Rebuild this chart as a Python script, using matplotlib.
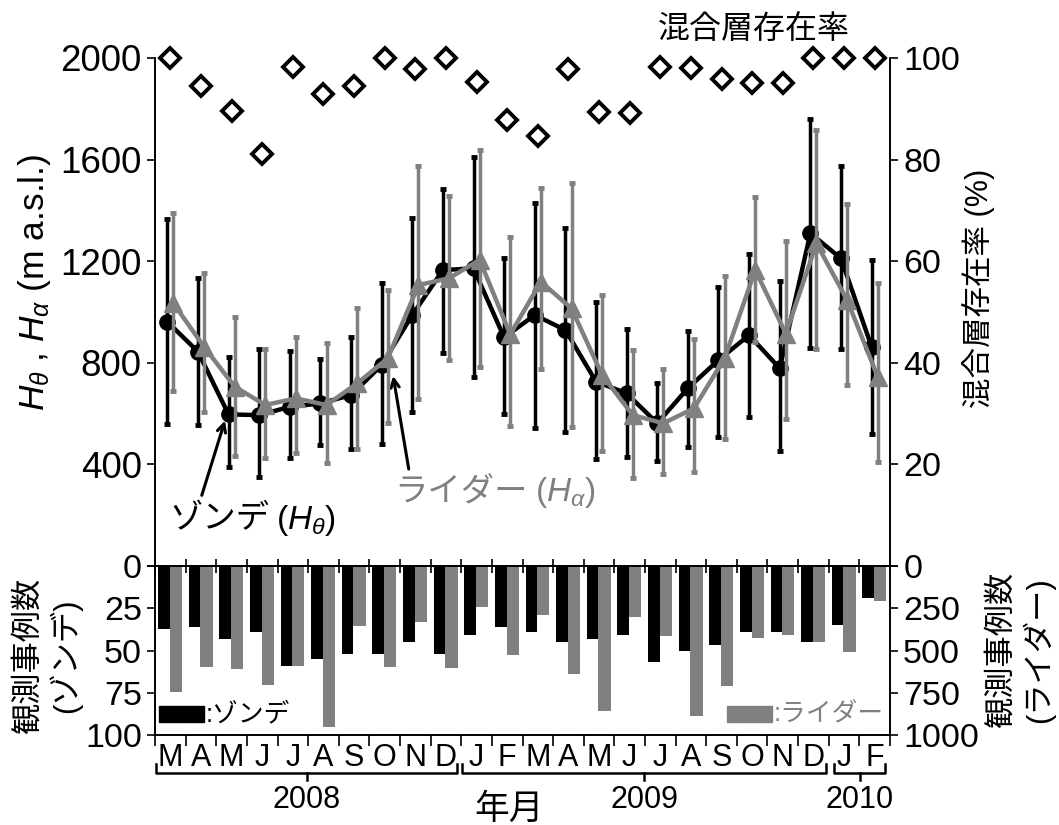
import numpy as np
import matplotlib
matplotlib.use('Agg')
import matplotlib.pyplot as plt
from matplotlib import transforms
from matplotlib.patches import Rectangle

plt.rcParams['font.family'] = ['Liberation Sans', 'Noto Sans CJK JP', 'DejaVu Sans']
plt.rcParams['mathtext.fontset'] = 'custom'
plt.rcParams['mathtext.rm'] = 'Liberation Sans'
plt.rcParams['mathtext.it'] = 'Liberation Sans:italic'
plt.rcParams['axes.linewidth'] = 1.2

months = ['M', 'A', 'M', 'J', 'J', 'A', 'S', 'O', 'N', 'D', 'J', 'F',
          'M', 'A', 'M', 'J', 'J', 'A', 'S', 'O', 'N', 'D', 'J', 'F']

# sonde mixing layer height H_theta (m a.s.l.) with error bar ends
sonde_h = [962, 844, 597, 594, 627, 640, 673, 791, 988, 1165, 1172, 900,
           988, 929, 726, 680, 562, 700, 811, 909, 778, 1310, 1211, 863]
sonde_hi = [1366, 1133, 824, 854, 846, 815, 903, 1113, 1369, 1484, 1609, 1211,
            1428, 1329, 1041, 932, 722, 926, 1100, 1228, 1123, 1759, 1576, 1205]
sonde_lo = [559, 555, 388, 352, 424, 476, 461, 479, 605, 840, 745, 598,
            545, 526, 420, 430, 415, 470, 509, 588, 453, 857, 853, 520]

# lidar H_alpha
lidar_h = [1034, 863, 706, 634, 660, 634, 719, 818, 1106, 1133, 1205, 912,
           1119, 1014, 752, 594, 562, 621, 818, 1165, 915, 1270, 1047, 745]
lidar_hi = [1389, 1152, 981, 854, 900, 879, 1014, 1087, 1576, 1458, 1638, 1294,
            1487, 1506, 1067, 850, 774, 894, 1142, 1454, 1281, 1717, 1424, 1113]
lidar_lo = [689, 607, 434, 424, 444, 404, 461, 562, 657, 811, 782, 551,
            774, 548, 454, 345, 361, 369, 499, 880, 578, 853, 713, 411]

# mixing layer existence rate (%)
mix_rate = [100, 94.5, 89.6, 81.2, 98.3, 93.0, 94.4, 100, 97.8, 100, 95.2, 87.7,
            84.7, 97.8, 89.3, 89.1, 98.3, 98.0, 95.9, 95.0, 95.0, 100, 100, 100]

# number of observations
sonde_n = [37, 36, 43, 39, 59, 55, 52, 52, 45, 52, 41, 36,
           39, 45, 43, 41, 57, 50, 47, 39, 39, 45, 35, 19]
lidar_n = [744, 599, 611, 704, 590, 951, 355, 599, 330, 605, 245, 527,
           290, 639, 856, 300, 412, 888, 710, 428, 408, 448, 511, 205]

years = ['2008', '2009', '2010']
year_span = [(-0.47, 9.37), (9.54, 21.4), (21.66, 23.35)]

h_ticks = [0, 400, 800, 1200, 1600, 2000]
rate_ticks = [0, 20, 40, 60, 80, 100]

GRAY = '#808080'
x = np.arange(len(months))
sonde_h = np.array(sonde_h)
lidar_h = np.array(lidar_h)

fig = plt.figure(figsize=(10.59, 8.25), dpi=100)
ax = fig.add_axes([0.1464, 0.3139, 0.694, 0.6158])
axr = ax.twinx()
axb = fig.add_axes([0.1464, 0.1091, 0.694, 0.2048])
axbr = axb.twinx()

# top panel
ax.errorbar(x - 0.1, sonde_h, yerr=[sonde_h - np.array(sonde_lo), np.array(sonde_hi) - sonde_h],
            fmt='-o', color='black', lw=3.2, ms=11, elinewidth=2.5, capsize=2.2, capthick=3.5, zorder=3)
ax.errorbar(x + 0.1, lidar_h, yerr=[lidar_h - np.array(lidar_lo), np.array(lidar_hi) - lidar_h],
            fmt='-^', color=GRAY, lw=3.2, ms=13, elinewidth=2.5, capsize=2.2, capthick=3.5, zorder=4)
ax.set_xlim(-0.5, 23.5)
ax.set_ylim(0, 2000)
ax.set_yticks(h_ticks)
# the 0 is shown by the lower panel's label
ax.set_yticklabels([''] + [str(v) for v in h_ticks[1:]])
ax.set_xticks(np.arange(-0.5, 24, 1))
ax.set_xticklabels([])
ax.tick_params(axis='x', direction='inout', length=10, width=1.2)
ax.tick_params(axis='y', labelsize=26.5, length=6, width=1.2, direction='out')
ax.spines['top'].set_visible(False)
axr.spines['top'].set_visible(False)

axr.plot(x, mix_rate, 'D', ms=10, mfc='white', mec='black', mew=2.8, clip_on=False, zorder=5)
axr.set_ylim(0, 100)
axr.set_yticks(rate_ticks)
axr.set_yticklabels([''] + [str(v) for v in rate_ticks[1:]])
axr.tick_params(axis='y', labelsize=24.5, length=6, width=1.2, direction='out')
ax.set_zorder(axr.get_zorder() + 1)
ax.patch.set_visible(False)

# annotations
ax.annotate('', xy=(1.81, 583), xytext=(1.0, 268),
            arrowprops=dict(arrowstyle='->,head_length=0.6,head_width=0.3', lw=2.2, color='black'))
t1 = ax.text(-0.04, 181, 'ゾンデ', fontsize=24, va='center', ha='left')
ax.annotate('($H_\\theta$)', xy=(1, 0.5), xycoords=t1, xytext=(5, 0), textcoords='offset points',
            fontsize=24, va='center', ha='left')
ax.annotate('', xy=(7.26, 759), xytext=(7.80, 371),
            arrowprops=dict(arrowstyle='->,head_length=0.6,head_width=0.3', lw=2.2, color='black'))
t2 = ax.text(7.31, 291, 'ライダー', fontsize=24, va='center', ha='left', color=GRAY)
ax.annotate('($H_\\alpha$)', xy=(1, 0.5), xycoords=t2, xytext=(5, 0), textcoords='offset points',
            fontsize=24, va='center', ha='left', color=GRAY)

# bottom panel
axb.bar(x - 0.40, sonde_n, width=0.38, align='edge', color='black')
axbr.bar(x - 0.02, lidar_n, width=0.40, align='edge', color=GRAY)
axb.set_xlim(-0.5, 23.5)
axb.set_ylim(100, 0)
axb.set_yticks([0, 25, 50, 75, 100])
axbr.set_ylim(1000, 0)
axbr.set_yticks([0, 250, 500, 750, 1000])
axb.tick_params(axis='y', labelsize=24.5, length=6, width=1.2)
axbr.tick_params(axis='y', labelsize=24.5, length=6, width=1.2)
axb.set_xticks(np.arange(-0.5, 24, 1))
axb.set_xticklabels([])
axb.set_xticks(x, minor=True)
axb.set_xticklabels(months, minor=True, fontsize=22)
axb.tick_params(axis='x', which='major', length=8, width=1.2)
axb.tick_params(axis='x', which='minor', length=0, pad=6)

# legend boxes
blend = transforms.blended_transform_factory(axb.transData, axb.transAxes)
axb.add_patch(Rectangle((-0.37, 0.077), 1.47, 0.095, transform=blend, color='black', zorder=5))
axb.text(1.15, 0.124, ':ゾンデ', transform=blend, fontsize=18.5, va='center', ha='left', zorder=5)
axbr.add_patch(Rectangle((18.19, 0.077), 1.47, 0.095, transform=blend, color=GRAY, zorder=5))
axbr.text(19.7, 0.124, ':ライダー', transform=blend, fontsize=18.5, va='center', ha='left', color=GRAY, zorder=5)

# year brackets
for lab, (x0, x1) in zip(years, year_span):
    xm = (x0 + x1) / 2
    axb.plot([x0, x0, x1, x1], [-0.172, -0.225, -0.225, -0.172], color='black', lw=1.8,
             transform=blend, clip_on=False)
    axb.plot([xm, xm], [-0.225, -0.266], color='black', lw=1.8, transform=blend, clip_on=False)
    axb.text(xm, -0.385, lab, transform=blend, fontsize=22, ha='center', va='center')
axb.text(11.07, -0.44, '年月', transform=blend, fontsize=25, ha='center', va='center')

# axis labels
fig.text(0.033, 0.658, '$H_\\theta$ , $H_\\alpha$ (m a.s.l.)', rotation=90, fontsize=25.5,
         ha='center', va='center')
fig.text(0.924, 0.651, '混合層存在率 (%)', rotation=90, fontsize=22, ha='center', va='center')
fig.text(0.712, 0.964, '混合層存在率', fontsize=23, ha='center', va='center')
fig.text(0.045, 0.205, '観測事例数\n(ゾンデ)', rotation=90, fontsize=22.5, ha='center', va='center',
         multialignment='center', linespacing=1.2)
fig.text(0.964, 0.212, '観測事例数\n(ライダー)', rotation=90, fontsize=22.5, ha='center', va='center',
         multialignment='center', linespacing=1.2)

fig.savefig('out.png', dpi=100)
